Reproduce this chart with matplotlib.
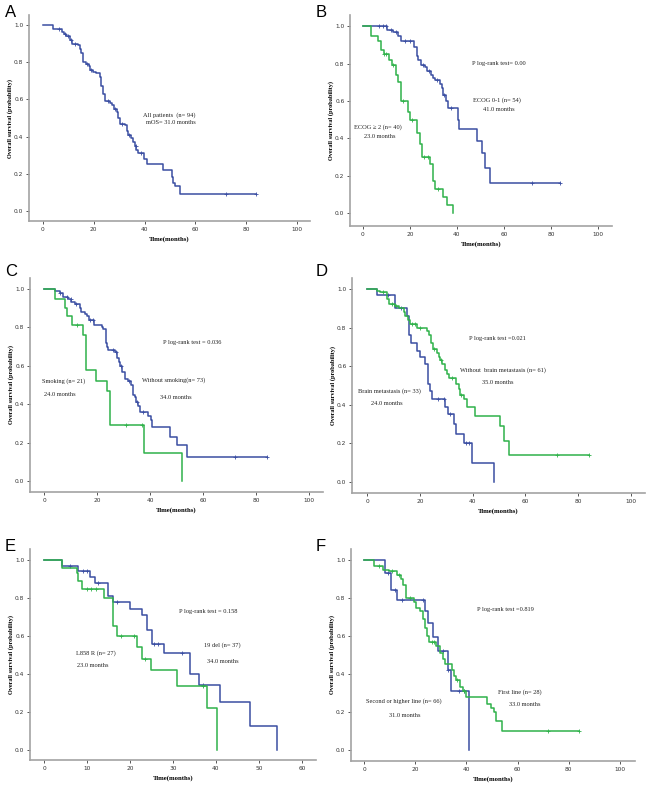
import numpy as np
import matplotlib
matplotlib.use('Agg')
import matplotlib.pyplot as plt

# ---- data (time in months, survival probability) ----
# A: all patients
a_t = [0, 4, 7.6, 8.3, 9.2, 10.5, 11.6, 13.8, 14.5, 15.1, 15.8, 16.8, 18, 18.7, 19.7, 21, 22.4, 23, 23.7, 24.3,
       26.3, 27, 27.9, 29, 29.6, 30.3, 32.2, 32.9, 33.6, 34.6, 35.5, 36.2, 36.8, 37.5, 39.7, 40.8, 47.4, 50.7,
       51.3, 52, 54, 84]
a_s = [1.0, 0.98, 0.96, 0.95, 0.94, 0.92, 0.90, 0.89, 0.87, 0.85, 0.80, 0.79, 0.78, 0.76, 0.75, 0.74, 0.72, 0.67,
       0.63, 0.59, 0.58, 0.57, 0.55, 0.53, 0.50, 0.47, 0.46, 0.43, 0.41, 0.39, 0.37, 0.35, 0.33, 0.31, 0.28, 0.25,
       0.22, 0.18, 0.15, 0.135, 0.09, 0.09]
a_cens = [6.5, 8.8, 10, 11, 12.5, 17.5, 19, 25.5, 28.5, 31, 34, 36.5, 38.5, 72, 84]

# B: ECOG 0-1 (blue) / ECOG >= 2 (green)
b_blue_t = [0, 10.2, 13, 15.1, 16.3, 21.9, 23, 23.6, 24.8, 26.4, 27.2, 29, 30, 30.7, 32.8, 33.5, 34.2, 35.2, 36.4,
            40.3, 41, 48.4, 50.5, 51.9, 54, 84]
b_blue_s = [1.0, 0.98, 0.97, 0.95, 0.92, 0.89, 0.84, 0.82, 0.79, 0.78, 0.76, 0.74, 0.72, 0.71, 0.69, 0.67, 0.63,
            0.60, 0.56, 0.50, 0.45, 0.385, 0.32, 0.24, 0.16, 0.16]
b_blue_cens = [7, 8.5, 10, 12, 14, 18, 20, 25.5, 28, 31.5, 34.5, 37.5, 72, 84]
b_green_t = [0, 3.5, 6.6, 7.8, 8.8, 11.2, 12.3, 14.1, 15.1, 16.3, 19, 20.2, 23, 24.3, 25, 28.6, 30, 30.7, 34.2,
             35.6, 38.2]
b_green_s = [1.0, 0.95, 0.92, 0.87, 0.85, 0.82, 0.79, 0.74, 0.70, 0.60, 0.54, 0.50, 0.43, 0.37, 0.30, 0.26, 0.17,
             0.13, 0.085, 0.04, 0.0]
b_green_cens = [9, 10, 13, 17, 21, 26, 27.5, 32]

# C: without smoking (blue) / smoking (green)
c_blue_t = [0, 4, 5.9, 7.2, 9.1, 10.3, 11.6, 13.5, 14.1, 15.4, 16.2, 17, 18.9, 21.7, 22.3, 23.3, 23.8, 24.2, 26.7,
            27.6, 28.3, 28.8, 29.5, 30.5, 31.7, 32.7, 33.6, 34.3, 34.9, 35.5, 36.1, 39.3, 40.2, 40.8, 47.5, 50,
            53.8, 84]
c_blue_s = [1.0, 0.99, 0.98, 0.96, 0.95, 0.93, 0.92, 0.90, 0.88, 0.87, 0.86, 0.84, 0.81, 0.80, 0.79, 0.72, 0.70,
            0.68, 0.67, 0.64, 0.62, 0.60, 0.57, 0.53, 0.52, 0.50, 0.45, 0.44, 0.41, 0.39, 0.36, 0.34, 0.32, 0.28,
            0.23, 0.19, 0.125, 0.125]
c_blue_cens = [6, 8.5, 10, 12, 17.5, 18.5, 26, 27, 29, 32, 35, 37.5, 72, 84]
c_green_t = [0, 4, 7.8, 8.8, 10.7, 14.7, 15.7, 19.8, 23.8, 24.8, 37.8, 51.9]
c_green_s = [1.0, 0.95, 0.90, 0.86, 0.81, 0.76, 0.58, 0.52, 0.47, 0.29, 0.145, 0.0]
c_green_cens = [12.5, 31, 37]

# D: without brain metastasis (green) / brain metastasis (blue)
d_green_t = [0, 3.8, 5, 7.6, 8.2, 10.7, 12, 13.9, 14.5, 15.5, 16.4, 18.9, 22.7, 23.6, 24.3, 25, 26.5, 27.1, 27.7,
             28.4, 29.4, 30.3, 30.9, 33.8, 34.7, 35.3, 36.6, 37.8, 41, 50.4, 51.7, 53.6, 84]
d_green_s = [1.0, 0.99, 0.985, 0.95, 0.92, 0.91, 0.90, 0.88, 0.86, 0.84, 0.82, 0.80, 0.78, 0.76, 0.72, 0.69, 0.67,
             0.65, 0.63, 0.61, 0.58, 0.56, 0.54, 0.51, 0.48, 0.45, 0.43, 0.39, 0.34, 0.29, 0.21, 0.14, 0.14]
d_green_cens = [6, 9.5, 11, 17, 18, 20, 25.5, 28, 32, 35.5, 72, 84]
d_blue_t = [0, 3.8, 10.7, 15.1, 15.8, 16.8, 18.9, 20.2, 22.1, 23.1, 24, 24.6, 29.6, 30.6, 32.8, 33.8, 36.6, 39.7,
            48.2]
d_blue_s = [1.0, 0.97, 0.90, 0.86, 0.76, 0.72, 0.68, 0.65, 0.61, 0.51, 0.47, 0.43, 0.39, 0.35, 0.30, 0.25, 0.20,
            0.10, 0.0]
d_blue_cens = [8, 13, 27, 29, 31.5, 37.5, 38.5]

# E: 19 del (blue) / L858R (green)
e_blue_t = [0, 4.1, 7.8, 10.7, 11.9, 15, 16, 19.9, 22.7, 23.9, 25.1, 27.9, 33.9, 36.1, 41, 48, 54.2]
e_blue_s = [1.0, 0.97, 0.94, 0.91, 0.88, 0.81, 0.78, 0.74, 0.71, 0.63, 0.56, 0.51, 0.40, 0.34, 0.255, 0.125, 0.0]
e_blue_cens = [6, 9, 10, 12.5, 17, 25.5, 26.5, 32, 37]
e_green_t = [0, 4.1, 7.6, 8, 8.8, 14, 16, 16.9, 21.6, 22.7, 24.9, 30.9, 37.9, 40.2]
e_green_s = [1.0, 0.96, 0.93, 0.89, 0.85, 0.80, 0.65, 0.60, 0.54, 0.48, 0.42, 0.335, 0.22, 0.0]
e_green_cens = [10, 11, 12, 18, 21, 23.5, 37]

# F: treatment line
f_blue_t = [0, 8.1, 10.7, 13, 23.8, 24.8, 27, 29, 32.9, 34, 41]
f_blue_s = [1.0, 0.93, 0.84, 0.79, 0.73, 0.67, 0.595, 0.52, 0.42, 0.31, 0.0]
f_blue_cens = [9.5, 12, 15, 23, 31, 33, 37, 39]
f_green_t = [0, 3.9, 7.4, 9.8, 12.9, 14.6, 15.2, 16.5, 19.6, 20.5, 22, 23.2, 23.8, 24.6, 25.4, 28, 29.5, 30.8,
             31.5, 34.5, 35.3, 36.1, 37.5, 38.5, 40, 48, 49.6, 50.7, 51.5, 54, 84]
f_green_s = [1.0, 0.97, 0.95, 0.94, 0.92, 0.90, 0.87, 0.80, 0.78, 0.75, 0.73, 0.69, 0.64, 0.60, 0.57, 0.55, 0.51,
             0.48, 0.45, 0.42, 0.39, 0.37, 0.33, 0.31, 0.28, 0.24, 0.22, 0.20, 0.15, 0.10, 0.10]
f_green_cens = [6, 11, 13.5, 18, 26.5, 27.5, 36.5, 39, 72, 84]

BLUE = '#3a4ea2'
GREEN = '#2fb24a'
SPINE = '#a3a3a3'
SERIF = ['Liberation Serif', 'DejaVu Serif']

W, H = 650, 789


def draw_curve(ax, t, s, cens, color):
    ax.step(t, s, where='post', color=color, lw=1.1)
    t = np.asarray(t)
    s = np.asarray(s)
    idx = np.searchsorted(t, cens, side='right') - 1
    ax.plot(cens, s[idx], ls='none', marker='+', ms=2.5, mew=0.6, color=color)


def make_axes(fig, box, xlim, ylim, xticks):
    # box = (left, top, right, bottom) in pixels
    l, t, r, b = box
    ax = fig.add_axes([l / W, 1 - b / H, (r - l) / W, (b - t) / H])
    ax.set_xlim(xlim)
    ax.set_ylim(ylim)
    ax.set_xticks(xticks)
    ax.set_yticks([0.0, 0.2, 0.4, 0.6, 0.8, 1.0])
    ax.set_yticklabels(['0.0', '0.2', '0.4', '0.6', '0.8', '1.0'])
    for side in ['top', 'right']:
        ax.spines[side].set_visible(False)
    for side in ['left', 'bottom']:
        ax.spines[side].set_color(SPINE)
        ax.spines[side].set_linewidth(1.2)
    ax.tick_params(length=2, width=0.7, color='#555555', labelsize=4.2, labelcolor='#333333', pad=2)
    ax.set_xlabel('Time(months)', fontsize=4.8, fontweight='bold', family=SERIF)
    ax.set_ylabel('Overall survival (probability)', fontsize=4.5, fontweight='bold', family=SERIF)
    ax.xaxis.label.set_va('center')
    ax.yaxis.label.set_va('center')
    ax.xaxis.set_label_coords(0.5, -18 / (b - t))
    ax.yaxis.set_label_coords(-19 / (r - l), 0.5)
    return ax


def note(ax, items):
    for x, y, txt in items:
        ax.text(x, y, txt, fontsize=4.6, family=SERIF, ha='left', va='center', color='#222222')


fig = plt.figure(figsize=(W / 100, H / 100), dpi=100)

ticks100 = [0, 20, 40, 60, 80, 100]

# A
ax = make_axes(fig, (29, 15, 310, 221), (-5.5, 105.1), (-0.054, 1.054), ticks100)
draw_curve(ax, a_t, a_s, a_cens, BLUE)
note(ax, [(39.5, 0.517, 'All patients  (n= 94)'), (40.5, 0.478, 'mOS= 31.0 months')])

# B
ax = make_axes(fig, (350, 15, 612, 226), (-5.5, 106), (-0.07, 1.06), ticks100)
draw_curve(ax, b_blue_t, b_blue_s, b_blue_cens, BLUE)
draw_curve(ax, b_green_t, b_green_s, b_green_cens, GREEN)
note(ax, [(46.3, 0.80, 'P log-rank test= 0.00'), (47, 0.604, 'ECOG 0-1 (n= 54)'),
          (51.2, 0.556, '41.0 months'), (-3.7, 0.462, 'ECOG \u2265 2 (n= 40)'), (0.6, 0.41, '23.0 months')])

# C
ax = make_axes(fig, (30, 278, 323, 492), (-5.3, 105.3), (-0.057, 1.057), ticks100)
draw_curve(ax, c_blue_t, c_blue_s, c_blue_cens, BLUE)
draw_curve(ax, c_green_t, c_green_s, c_green_cens, GREEN)
note(ax, [(45, 0.72, 'P log-rank test = 0.036'), (-0.8, 0.518, 'Smoking (n= 21)'), (0, 0.452, '24.0 months'),
          (36.8, 0.523, 'Without smoking(n= 73)'), (43.7, 0.437, '34.0 months')])

# D
ax = make_axes(fig, (352, 278, 645, 493), (-5.7, 105.3), (-0.057, 1.057), ticks100)
draw_curve(ax, d_blue_t, d_blue_s, d_blue_cens, BLUE)
draw_curve(ax, d_green_t, d_green_s, d_green_cens, GREEN)
note(ax, [(38.7, 0.746, 'P log-rank test =0.021'), (35.3, 0.579, 'Without  brain metastasis (n= 61)'),
          (43.5, 0.516, '35.0 months'), (-3.5, 0.473, 'Brain metastasis (n= 33)'), (1.5, 0.406, '24.0 months')])

# E
ax = make_axes(fig, (30, 549, 316, 760), (-3.26, 63.3), (-0.053, 1.058), [0, 10, 20, 30, 40, 50, 60])
draw_curve(ax, e_blue_t, e_blue_s, e_blue_cens, BLUE)
draw_curve(ax, e_green_t, e_green_s, e_green_cens, GREEN)
note(ax, [(31.4, 0.727, 'P log-rank test = 0.158'), (37.3, 0.553, '19 del (n= 37)'), (38, 0.468, '34.0 months'),
          (7.5, 0.512, 'L858 R (n= 27)'), (7.6, 0.445, '23.0 months')])

# F
ax = make_axes(fig, (351, 549, 635, 761), (-5.1, 105.9), (-0.058, 1.058), ticks100)
draw_curve(ax, f_blue_t, f_blue_s, f_blue_cens, BLUE)
draw_curve(ax, f_green_t, f_green_s, f_green_cens, GREEN)
note(ax, [(44, 0.738, 'P log-rank test =0.819'), (52.5, 0.307, 'First line (n= 28)'), (56.8, 0.24, '33.0 months'),
          (0.9, 0.255, 'Second or higher line (n= 66)'), (9.8, 0.183, '31.0 months')])

# panel letters
for letter, x, y in [('A', 5, 5), ('B', 316, 5), ('C', 5, 264), ('D', 316, 264), ('E', 5, 539), ('F', 316, 539)]:
    fig.text(x / W, 1 - y / H, letter, fontsize=12, family='Liberation Sans', ha='left', va='top')

fig.savefig('out.png', dpi=100)
